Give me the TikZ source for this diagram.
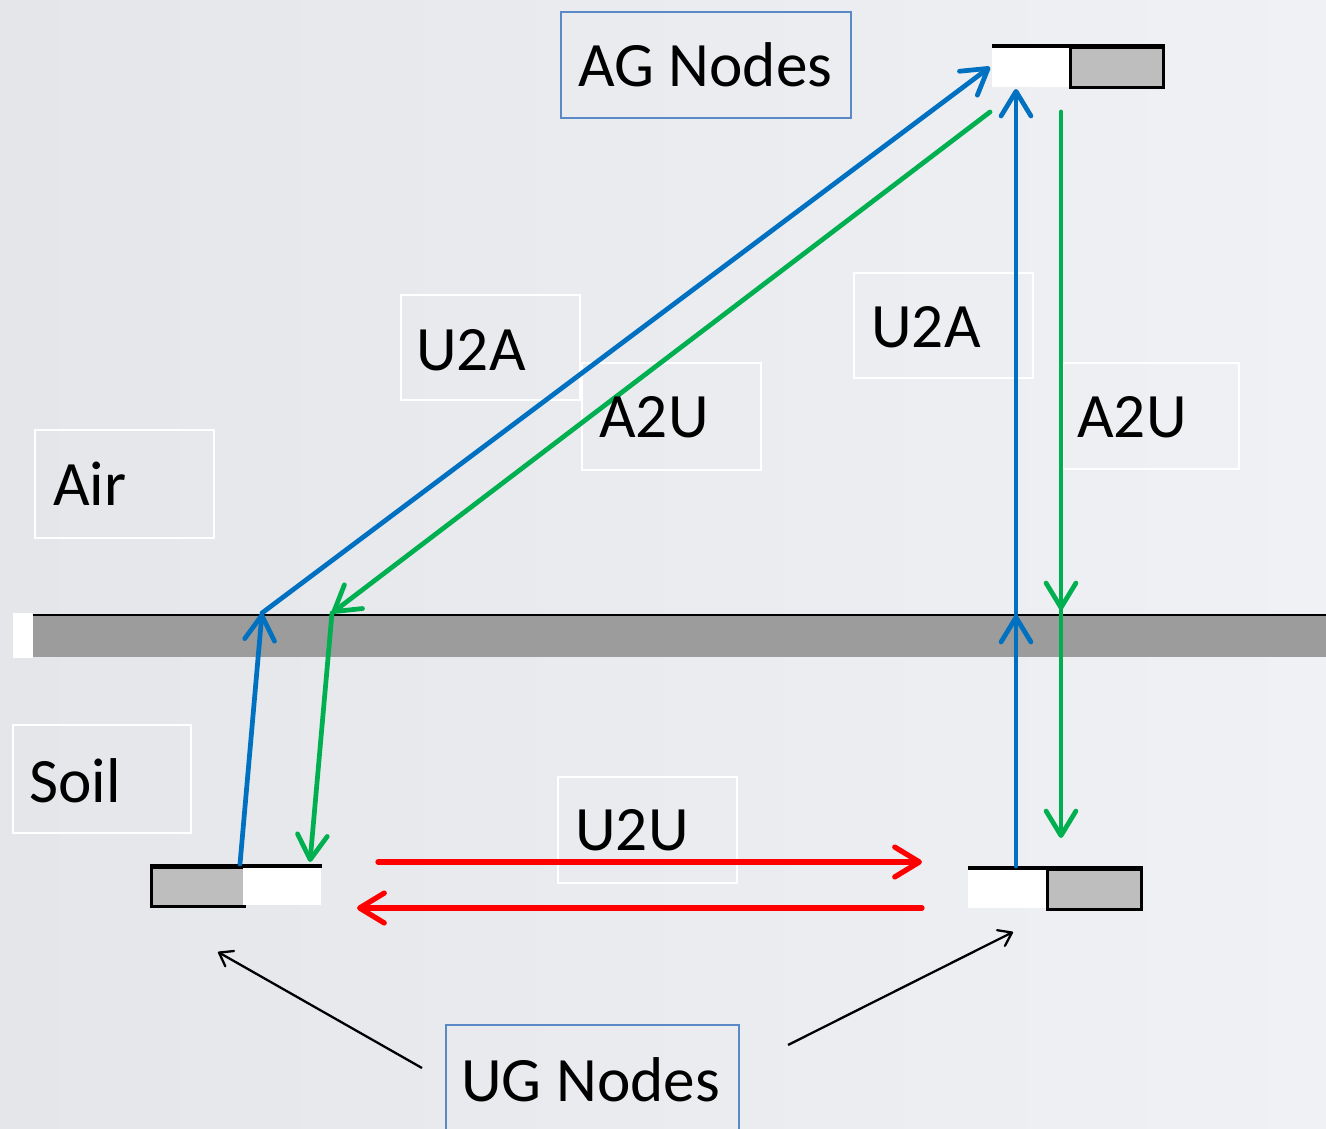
\documentclass[tikz,border=0pt]{standalone}
\usepackage{fontspec}
\setmainfont{Carlito}
\usetikzlibrary{arrows.meta}
\definecolor{bgL}{HTML}{E4E6EA}
\definecolor{bgR}{HTML}{EFF1F4}
\definecolor{cblue}{HTML}{0070C0}
\definecolor{cgreen}{HTML}{00B050}
\definecolor{cred}{HTML}{FF0000}
\definecolor{boxblue}{HTML}{5B89C6}
\definecolor{nodegray}{HTML}{BEBEBE}
\definecolor{groundgray}{HTML}{9C9C9C}
\tikzset{
  lbl/.style={anchor=base west, inner sep=0pt, font=\fontsize{36}{40}\selectfont},
  sz/.style 2 args={minimum width=#1*0.02cm, minimum height=#2*0.02cm, inner sep=0pt},
  wbox/.style={draw=white, line width=1.3pt},
  bbox/.style={draw=boxblue, line width=1.3pt},
  wpart/.style={fill=white, inner sep=0pt, anchor=north west},
  gpart/.style={fill=nodegray, draw=black, line width=1.7pt, inner sep=0pt, anchor=north west},
  topline/.style={line width=2.2pt, black},
  bluearr/.style={cblue, line width=2.7pt, line cap=round, -{Straight Barb[length=14pt,width=17pt,round]}},
  greenarr/.style={cgreen, line width=2.7pt, line cap=round, -{Straight Barb[length=14pt,width=17pt,round]}},
  redarr/.style={cred, line width=3pt, line cap=round, -{Straight Barb[length=14pt,width=17pt,round]}},
  blackarr/.style={black, line width=1.3pt, -{Straight Barb[length=7pt,width=10pt,round]}}
}
\begin{document}
\begin{tikzpicture}[x=0.02cm,y=-0.02cm]
\useasboundingbox (0,0) rectangle (1326,1129);
\shade[left color=bgL, right color=bgR] (0,0) rectangle (1326,1129);

% ground
\fill[white] (13,613) rectangle (33,658);
\fill[groundgray] (33,615) rectangle (1326,657);
\draw[line width=1.6pt, black] (33,615) -- (1326,615);

% label boxes
\node[bbox, sz={290}{106}] (agbox) at (706,65) {};
\node[bbox, sz={293}{118}] (ugbox) at (592.5,1084) {};
\node[wbox, sz={179}{105}] (u2aLbox) at (490.5,347.5) {};
\node[wbox, sz={179}{107}] (a2uMbox) at (671.5,416.5) {};
\node[wbox, sz={179}{105}] (u2aRbox) at (943.5,325.5) {};
\node[wbox, sz={176}{106}] (a2uRbox) at (1151,416) {};
\node[wbox, sz={179}{108}] (airbox) at (124.5,484) {};
\node[wbox, sz={178}{108}] (soilbox) at (102,779) {};
\node[wbox, sz={179}{106}] (u2ubox) at (647.5,830) {};

% sensor nodes
\node[wpart, sz={77}{41}] (agW) at (992,46) {};
\node[gpart, sz={93}{40}] (agG) at (1069,46) {};
\draw[topline] (agW.north west) -- (agG.north east);

\node[gpart, sz={93}{39}] (ugLG) at (150,866) {};
\node[wpart, sz={78}{39}] (ugLW) at (243,866) {};
\draw[topline] (ugLG.north west) -- (ugLW.north east);

\node[wpart, sz={78}{40}] (ugRW) at (968,868) {};
\node[gpart, sz={94}{40}] (ugRG) at (1046,868) {};
\draw[topline] (ugRW.north west) -- (ugRG.north east);

% connector end points
\coordinate (gA) at (262,613);
\coordinate (gB) at (332,613);
\coordinate (gC) at (1016,615);
\coordinate (gD) at (1061,610);
\coordinate (ugLout) at (240,864);
\coordinate (ugLin) at (310,862);
\coordinate (ugRout) at (1016,866);
\coordinate (ugRin) at (1061,838);
\coordinate (agIn) at (990,67);
\coordinate (agInV) at (1016,89);
\coordinate (agOut) at (990,112);
\coordinate (agOutV) at (1061,112);
\coordinate (r1s) at (378,862);
\coordinate (r1e) at (922,862);
\coordinate (r2s) at (922,908);
\coordinate (r2e) at (357,908);
\coordinate (bl1s) at (422,1068);
\coordinate (bl1e) at (218,952);
\coordinate (bl2s) at (788,1045);
\coordinate (bl2e) at (1013,932);

% blue U2A
\draw[bluearr] (ugLout) -- (gA);
\draw[bluearr] (gA) -- (agIn);
\draw[bluearr] (ugRout) -- (gC);
\draw[bluearr] (gC) -- (agInV);
% green A2U
\draw[greenarr] (agOut) -- (gB);
\draw[greenarr] (gB) -- (ugLin);
\draw[greenarr] (agOutV) -- (gD);
\draw[greenarr] (gD) -- (ugRin);
% red U2U
\draw[redarr] (r1s) -- (r1e);
\draw[redarr] (r2s) -- (r2e);
% black pointers
\draw[blackarr] (bl1s) -- (bl1e);
\draw[blackarr] (bl2s) -- (bl2e);

% texts
\node[lbl] (agtxt) at (578,86) {AG Nodes};
\node[lbl] (ugtxt) at (461,1101) {UG Nodes};
\node[lbl] (u2aL) at (416,370) {U2A};
\node[lbl] (a2uM) at (599,437) {A2U};
\node[lbl] (u2aR) at (871,347) {U2A};
\node[lbl] (a2uR) at (1077,437) {A2U};
\node[lbl] (air) at (53,505) {Air};
\node[lbl] (soil) at (29,802) {Soil};
\node[lbl] (u2u) at (575,850) {U2U};
\end{tikzpicture}
\end{document}
